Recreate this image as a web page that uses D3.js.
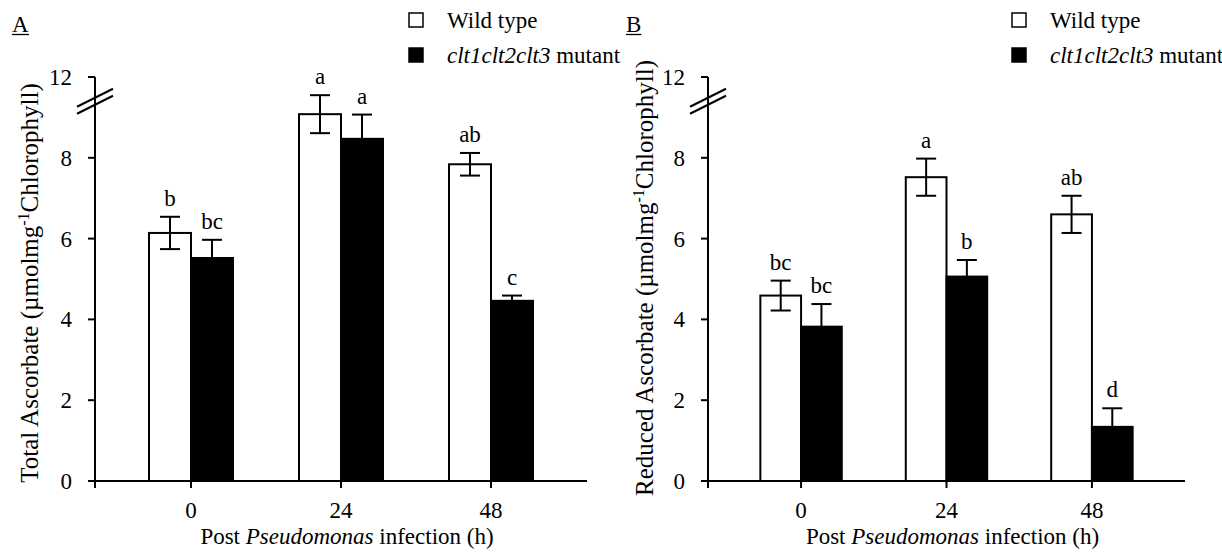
<!DOCTYPE html>
<html>
<head>
<meta charset="utf-8">
<script src="https://cdn.jsdelivr.net/npm/d3@7"></script>
<style>
  html, body { margin: 0; padding: 0; background: #fff; }
  svg { display: block; }
  text { font-family: "Liberation Serif", "Times New Roman", serif; fill: #000; }
</style>
</head>
<body>
<svg id="chart" width="1222" height="555"></svg>
<script>
// ---------- data ----------
const categories = ["0", "24", "48"];
const seriesNames = ["Wild type", "clt1clt2clt3 mutant"];
const tickValues = [0, 2, 4, 6, 8, 10];
const tickLabels = ["0", "2", "4", "6", "8", "12"];
const axisBreakAt = 9.4;

const totalWT = [6.14, 9.08, 7.84];
const totalWTErr = [0.40, 0.47, 0.28];
const totalMut = [5.52, 8.47, 4.46];
const totalMutErr = [0.45, 0.60, 0.13];
const totalWTLetters = ["b", "a", "ab"];
const totalMutLetters = ["bc", "a", "c"];

const reducedWT = [4.59, 7.52, 6.60];
const reducedWTErr = [0.37, 0.46, 0.46];
const reducedMut = [3.82, 5.06, 1.34];
const reducedMutErr = [0.56, 0.41, 0.46];
const reducedWTLetters = ["bc", "a", "ab"];
const reducedMutLetters = ["bc", "b", "d"];

// ---------- drawing ----------
const svg = d3.select("#chart");
const FS = 23;
const YFS = 25;

function panel(opt) {
  const g = svg.append("g");
  const x = d3.scalePoint().domain(categories).range([opt.x0, opt.x1]).padding(0.64);
  const y = d3.scaleLinear().domain([0, 10]).range([481, 77]);
  const bw = x.step() * 0.28;

  const series = [
    {vals: opt.wt, err: opt.wtErr, letters: opt.wtLetters, fill: "#fff", dx: -bw},
    {vals: opt.mut, err: opt.mutErr, letters: opt.mutLetters, fill: "#000", dx: 0}
  ];

  series.forEach(s => {
    const rows = categories.map((c, i) => ({c, v: s.vals[i], e: s.err[i], l: s.letters[i]}));
    g.selectAll(null).data(rows).enter().append("rect")
      .attr("x", d => x(d.c) + s.dx)
      .attr("y", d => y(d.v))
      .attr("width", bw)
      .attr("height", d => y(0) - y(d.v))
      .attr("fill", s.fill)
      .attr("stroke", "#000")
      .attr("stroke-width", 2);
    const cx = d => x(d.c) + s.dx + bw / 2;
    g.selectAll(null).data(rows).enter().append("line")
      .attr("x1", cx).attr("x2", cx)
      .attr("y1", d => y(d.v - d.e)).attr("y2", d => y(d.v + d.e))
      .attr("stroke", "#000").attr("stroke-width", 2);
    [1, -1].forEach(sign => {
      g.selectAll(null).data(rows).enter().append("line")
        .attr("x1", d => cx(d) - 10).attr("x2", d => cx(d) + 10)
        .attr("y1", d => y(d.v + sign * d.e)).attr("y2", d => y(d.v + sign * d.e))
        .attr("stroke", "#000").attr("stroke-width", 2);
    });
    g.selectAll(null).data(rows).enter().append("text")
      .attr("x", cx)
      .attr("y", d => y(d.v + d.e) - 11)
      .attr("text-anchor", "middle")
      .attr("font-size", FS)
      .text(d => d.l);
  });

  // x axis
  g.append("line").attr("x1", opt.x0).attr("x2", opt.x1)
    .attr("y1", y(0)).attr("y2", y(0)).attr("stroke", "#000").attr("stroke-width", 2);
  g.selectAll(null).data(categories).enter().append("line")
    .attr("x1", d => x(d)).attr("x2", d => x(d))
    .attr("y1", y(0)).attr("y2", y(0) + 7).attr("stroke", "#000").attr("stroke-width", 2);
  g.selectAll(null).data(categories).enter().append("text")
    .attr("x", d => x(d)).attr("y", y(0) + 37)
    .attr("text-anchor", "middle").attr("font-size", FS).text(d => d);

  const xt = g.append("text")
    .attr("x", (x(categories[0]) + x(categories[2])) / 2 + 6)
    .attr("y", 544).attr("text-anchor", "middle").attr("font-size", FS);
  xt.append("tspan").text("Post ");
  xt.append("tspan").attr("font-style", "italic").text("Pseudomonas");
  xt.append("tspan").text(" infection (h)");

  // y axis
  g.append("line").attr("x1", opt.x0).attr("x2", opt.x0)
    .attr("y1", y(10)).attr("y2", y(0) + 7).attr("stroke", "#000").attr("stroke-width", 2);
  g.selectAll(null).data(tickValues).enter().append("line")
    .attr("x1", opt.x0 - 7).attr("x2", opt.x0)
    .attr("y1", d => y(d)).attr("y2", d => y(d)).attr("stroke", "#000").attr("stroke-width", 2);
  g.selectAll(null).data(tickValues).enter().append("text")
    .attr("x", opt.x0 - 23).attr("y", d => y(d))
    .attr("dy", "0.35em").attr("text-anchor", "end").attr("font-size", FS)
    .text((d, i) => tickLabels[i]);

  // axis break marks
  [-3.5, 3.5].forEach(off => {
    const yb = y(axisBreakAt) + off;
    g.append("line").attr("x1", opt.x0 - 18).attr("x2", opt.x0 + 18)
      .attr("y1", yb + 9).attr("y2", yb - 9)
      .attr("stroke", "#000").attr("stroke-width", 2);
  });

  // y title
  const yt = g.append("text")
    .attr("transform", `translate(${opt.ytx},${opt.yty}) rotate(-90)`)
    .attr("text-anchor", "middle").attr("font-size", YFS);
  yt.append("tspan").text(opt.ytitle + "  (µmolmg");
  yt.append("tspan").attr("font-size", 16).attr("dy", -9).text("-1");
  yt.append("tspan").attr("dy", 9).text("Chlorophyll)");

  // panel letter
  const pl = g.append("text").attr("x", opt.lx).attr("y", 32).attr("font-size", FS).text(opt.label);
  const bb = pl.node().getBBox();
  g.append("line").attr("x1", bb.x).attr("x2", bb.x + bb.width)
    .attr("y1", 34.5).attr("y2", 34.5).attr("stroke", "#000").attr("stroke-width", 1.3);

  // legend
  const leg = g.append("g");
  seriesNames.forEach((n, i) => {
    const yy = 13 + i * 35;
    leg.append("rect").attr("x", opt.legx).attr("y", yy).attr("width", 14).attr("height", 14)
      .attr("fill", i === 0 ? "#fff" : "#000").attr("stroke", "#000").attr("stroke-width", 1.5);
    const t = leg.append("text").attr("x", opt.legx + 38).attr("y", yy + 15).attr("font-size", FS);
    if (i === 0) t.text(n);
    else {
      const parts = n.split(" ");
      t.append("tspan").attr("font-style", "italic").text(parts[0]);
      t.append("tspan").text(" " + parts[1]);
    }
  });
}

panel({x0: 95, x1: 587, wt: totalWT, wtErr: totalWTErr, mut: totalMut, mutErr: totalMutErr,
  wtLetters: totalWTLetters, mutLetters: totalMutLetters, ytitle: "Total Ascorbate",
  ytx: 38, yty: 283, label: "A", lx: 12, legx: 409});
panel({x0: 708, x1: 1185, wt: reducedWT, wtErr: reducedWTErr, mut: reducedMut, mutErr: reducedMutErr,
  wtLetters: reducedWTLetters, mutLetters: reducedMutLetters, ytitle: "Reduced Ascorbate",
  ytx: 653, yty: 278, label: "B", lx: 626, legx: 1012});
</script>
</body>
</html>
